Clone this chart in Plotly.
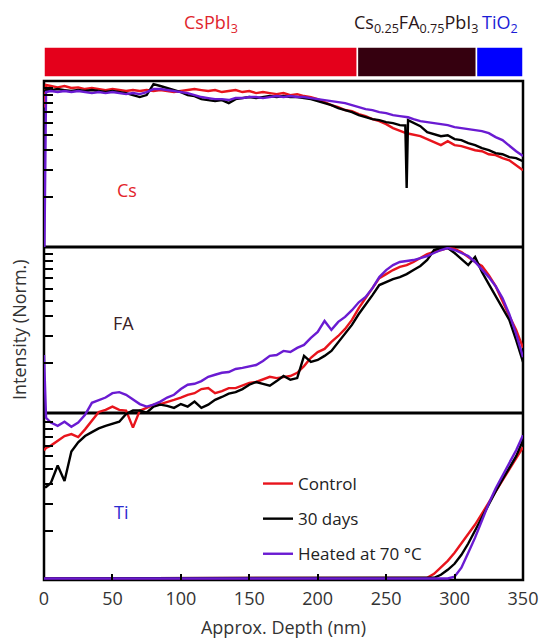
import plotly.graph_objects as go

# ---------------- data ----------------
depth = [0, 1.5, 5, 10, 15, 20, 25, 30, 35, 40,
         45, 50, 55, 60, 65, 70, 75, 80, 85, 90,
         95, 100, 105, 110, 115, 120, 125, 130, 135, 140,
         145, 150, 155, 160, 165, 170, 175, 180, 185, 190,
         195, 200, 205, 210, 215, 220, 225, 230, 235, 240,
         245, 250, 255, 260, 265, 270, 275, 280, 285, 290,
         295, 300, 305, 310, 315, 320, 325, 330, 335, 340,
         345, 350]

depth_cs = [0, 1.5, 5, 10, 15, 20, 25, 30, 35, 40,
            45, 50, 55, 60, 65, 70, 75, 80, 85, 90,
            95, 100, 105, 110, 115, 120, 125, 130, 135, 140,
            145, 150, 155, 160, 165, 170, 175, 180, 185, 190,
            195, 200, 205, 210, 215, 220, 225, 230, 235, 240,
            245, 250, 255, 260, 264, 265, 266, 270, 275, 280,
            285, 290, 295, 300, 305, 310, 315, 320, 325, 330,
            335, 340, 345, 350]

cs_control = [0.75, 1.045, 1.03, 1.01, 1.03, 1.00, 1.01, 0.985, 1.00, 0.985,
              0.97, 0.985, 0.97, 0.956, 0.97, 0.956, 0.97, 0.956, 0.97, 0.956,
              0.942, 0.956, 0.97, 0.985, 0.97, 0.956, 0.97, 0.942, 0.956, 0.97,
              0.942, 0.956, 0.928, 0.942, 0.928, 0.914, 0.928, 0.901, 0.914, 0.888,
              0.875, 0.849, 0.812, 0.777, 0.754, 0.722, 0.711, 0.680, 0.660, 0.632,
              0.613, 0.586, 0.553, 0.529, 0.515, 0.513, 0.511, 0.506, 0.491, 0.470,
              0.449, 0.430, 0.456, 0.430, 0.424, 0.411, 0.399, 0.393, 0.376, 0.371,
              0.355, 0.344, 0.320, 0.297]

cs_30days = [0.95, 0.97, 0.97, 0.985, 0.97, 0.956, 0.97, 0.956, 0.97, 0.956,
             0.942, 0.956, 0.942, 0.928, 0.901, 0.875, 0.901, 1.06, 1.03, 1.00,
             0.97, 0.942, 0.901, 0.888, 0.849, 0.837, 0.824, 0.837, 0.80, 0.849,
             0.862, 0.875, 0.862, 0.875, 0.888, 0.875, 0.888, 0.875, 0.875, 0.862,
             0.849, 0.824, 0.80, 0.777, 0.743, 0.722, 0.70, 0.670, 0.651, 0.632,
             0.622, 0.604, 0.595, 0.578, 0.575, 0.228, 0.622, 0.60, 0.569, 0.521,
             0.506, 0.491, 0.498, 0.470, 0.463, 0.443, 0.430, 0.411, 0.399, 0.382,
             0.376, 0.360, 0.355, 0.339]

cs_heated = [0.05, 0.942, 0.956, 0.942, 0.956, 0.942, 0.956, 0.942, 0.928, 0.942,
             0.928, 0.942, 0.928, 0.914, 0.928, 0.914, 0.942, 0.985, 0.985, 0.97,
             0.956, 0.942, 0.928, 0.901, 0.875, 0.862, 0.849, 0.849, 0.837, 0.862,
             0.862, 0.875, 0.875, 0.862, 0.875, 0.888, 0.875, 0.888, 0.875, 0.875,
             0.862, 0.849, 0.837, 0.824, 0.812, 0.80, 0.777, 0.754, 0.732, 0.722,
             0.70, 0.69, 0.67, 0.66, 0.653, 0.651, 0.649, 0.632, 0.613, 0.604,
             0.595, 0.586, 0.578, 0.561, 0.553, 0.545, 0.537, 0.529, 0.513, 0.484,
             0.463, 0.424, 0.393, 0.366]

fa_control = [0.055, 0.057, 0.059, 0.063, 0.068, 0.070, 0.067, 0.075, 0.086, 0.097,
              0.100, 0.105, 0.100, 0.099, 0.077, 0.099, 0.103, 0.108, 0.109, 0.113,
              0.116, 0.120, 0.125, 0.128, 0.136, 0.138, 0.128, 0.132, 0.138, 0.138,
              0.143, 0.149, 0.151, 0.156, 0.163, 0.160, 0.163, 0.165, 0.173, 0.191,
              0.216, 0.235, 0.246, 0.273, 0.298, 0.331, 0.378, 0.450, 0.521, 0.604,
              0.700, 0.743, 0.789, 0.826, 0.849, 0.889, 0.942, 1.000, 1.030, 1.061,
              1.093, 1.077, 1.030, 0.957, 0.889, 0.838, 0.732, 0.622, 0.492, 0.400,
              0.326, 0.250]

fa_30days = [0.032, 0.032, 0.034, 0.044, 0.035, 0.054, 0.062, 0.068, 0.072, 0.076,
             0.079, 0.081, 0.084, 0.094, 0.099, 0.099, 0.096, 0.105, 0.108, 0.106,
             0.103, 0.109, 0.105, 0.113, 0.103, 0.108, 0.116, 0.121, 0.127, 0.130,
             0.136, 0.145, 0.151, 0.147, 0.143, 0.153, 0.165, 0.156, 0.160, 0.222,
             0.203, 0.209, 0.222, 0.239, 0.273, 0.307, 0.351, 0.412, 0.470, 0.545,
             0.632, 0.661, 0.690, 0.711, 0.743, 0.789, 0.838, 0.915, 1.061, 1.093,
             1.093, 1.015, 0.929, 0.849, 0.957, 0.767, 0.641, 0.537, 0.450, 0.378,
             0.280, 0.203]

fa_heated = [0.225, 0.089, 0.083, 0.079, 0.084, 0.078, 0.083, 0.093, 0.111, 0.116,
             0.120, 0.128, 0.130, 0.125, 0.116, 0.109, 0.105, 0.108, 0.113, 0.120,
             0.125, 0.136, 0.145, 0.147, 0.153, 0.163, 0.168, 0.173, 0.175, 0.183,
             0.186, 0.191, 0.194, 0.206, 0.222, 0.225, 0.239, 0.235, 0.250, 0.261,
             0.290, 0.316, 0.372, 0.326, 0.367, 0.395, 0.436, 0.490, 0.530, 0.604,
             0.711, 0.789, 0.849, 0.889, 0.901, 0.915, 0.942, 0.971, 1.015, 1.061,
             1.093, 1.061, 1.015, 0.971, 0.889, 0.800, 0.711, 0.622, 0.521, 0.411,
             0.307, 0.218]

ti_control = [0.1, 0.1, 0.1, 0.1, 0.1, 0.1, 0.1, 0.1, 0.1, 0.1,
              0.1, 0.1, 0.1, 0.1, 0.1, 0.1, 0.1, 0.1, 0.1, 0.1,
              0.1, 0.1, 0.1, 0.1, 0.1, 0.1, 0.1, 0.1, 0.1, 0.1,
              0.1, 0.1, 0.1, 0.1, 0.1, 0.1, 0.1, 0.1, 0.1, 0.1,
              0.1, 0.1, 0.1, 0.1, 0.1, 0.1, 0.1, 0.1, 0.1, 0.1,
              0.1, 0.1, 0.1, 0.1, 0.1, 0.1, 0.1, 0.101, 0.107, 0.117,
              0.1295, 0.146, 0.167, 0.190, 0.2205, 0.259, 0.305, 0.359, 0.422, 0.497,
              0.584, 0.687]

ti_30days = [0.1, 0.1, 0.1, 0.1, 0.1, 0.1, 0.1, 0.1, 0.1, 0.1,
             0.1, 0.1, 0.1, 0.1, 0.1, 0.1, 0.1, 0.1, 0.1, 0.1,
             0.1, 0.1, 0.1, 0.1, 0.1, 0.1, 0.1, 0.1, 0.1, 0.1,
             0.1, 0.1, 0.1, 0.1, 0.1, 0.1, 0.1, 0.1, 0.1, 0.1,
             0.1, 0.1, 0.1, 0.1, 0.1, 0.1, 0.1, 0.1, 0.1, 0.1,
             0.1, 0.1, 0.1, 0.1, 0.1, 0.1, 0.1, 0.1, 0.101, 0.1055,
             0.1135, 0.124, 0.1415, 0.167, 0.202, 0.248, 0.301, 0.359, 0.428, 0.504,
             0.602, 0.762]

ti_heated = [0.1, 0.1, 0.1, 0.1, 0.1, 0.1, 0.1, 0.1, 0.1, 0.1,
             0.1, 0.1, 0.1, 0.1, 0.1, 0.1, 0.1, 0.1, 0.1, 0.1,
             0.1, 0.1, 0.1, 0.1, 0.1, 0.1, 0.1, 0.1, 0.1, 0.1,
             0.1, 0.1, 0.1, 0.1, 0.1, 0.1, 0.1, 0.1, 0.1, 0.1,
             0.1, 0.1, 0.1, 0.1, 0.1, 0.1, 0.1, 0.1, 0.1, 0.1,
             0.1, 0.1, 0.1, 0.1, 0.1, 0.1, 0.1, 0.1, 0.1, 0.1,
             0.1, 0.1025, 0.117, 0.146, 0.182, 0.234, 0.301, 0.375, 0.455, 0.543,
             0.657, 0.820]

series_names = ["Control", "30 days", "Heated at 70 °C"]
series_colors = ["#e8141c", "#000000", "#6a1bd2"]

panel_names = ["Cs", "FA", "Ti"]
panel_label_colors = ["#e3232b", "#3a2226", "#2a2ad0"]

layer_names = ["CsPbI<sub>3</sub>", "Cs<sub>0.25</sub>FA<sub>0.75</sub>PbI<sub>3</sub>", "TiO<sub>2</sub>"]
layer_start = [0, 229, 316]
layer_end = [229, 316, 350]
layer_colors = ["#e4001b", "#35000f", "#0000ff"]
layer_label_colors = ["#e0252d", "#2b1719", "#1c1cd6"]

x_ticks = [0, 50, 100, 150, 200, 250, 300, 350]
y_minor_ticks = [0.2, 0.3, 0.4, 0.5, 0.6, 0.7, 0.8, 0.9, 1.0]

for arr in (cs_control, cs_30days, cs_heated):
    assert len(arr) == len(depth_cs), len(arr)
for arr in (fa_control, fa_30days, fa_heated, ti_control, ti_30days, ti_heated):
    assert len(arr) == len(depth), len(arr)

# ---------------- layout geometry ----------------
W, H = 541, 640
PL, PR, PT, PB = 44, 523, 47, 580          # plot area in pixels
M_L, M_R, M_T, M_B = PL, W - PR, PT, H - PB
PLOT_H = PB - PT
PLOT_W = PR - PL


def py(px):
    return (PB - px) / PLOT_H


def px_x(px):
    return (px - PL) / PLOT_W


CS_TOP, CS_BOT, FA_BOT, TI_BOT = 81, 247, 413, 580
BAR_TOP, BAR_BOT = 47, 77
DEC = 1.065 / 166.0  # log decades per pixel

fig = go.Figure()

panels = [
    ("y", depth_cs, [cs_control, cs_30days, cs_heated], False),
    ("y2", depth, [fa_control, fa_30days, fa_heated], False),
    ("y3", depth, [ti_control, ti_30days, ti_heated], True),
]
for yax, xs, group, show in panels:
    for name, color, vals in zip(series_names, series_colors, group):
        fig.add_trace(go.Scatter(
            x=xs, y=vals, mode="lines", name=name, xaxis="x", yaxis=yax,
            line=dict(color=color, width=2.4), legendgroup=name,
            showlegend=show, hoverinfo="skip"))

fig.add_trace(go.Bar(
    x=[e - s for s, e in zip(layer_start, layer_end)], base=layer_start,
    y=[0, 0, 0], orientation="h", width=1, xaxis="x", yaxis="y4",
    marker=dict(color=layer_colors, line=dict(color="white", width=1.5)),
    showlegend=False, hoverinfo="skip"))

ytick_common = dict(type="log", tickvals=y_minor_ticks, ticks="inside", ticklen=9,
                    tickwidth=2, tickcolor="black", showticklabels=False,
                    showgrid=False, zeroline=False, showline=False, anchor="x")

fig.update_layout(
    template="none",
    width=W, height=H,
    margin=dict(l=M_L, r=M_R, t=M_T, b=M_B),
    paper_bgcolor="white", plot_bgcolor="rgba(0,0,0,0)",
    font=dict(family="Open Sans", color="#333333"),
    xaxis=dict(domain=[0, 1], range=[0, 350], anchor="y3", tickvals=x_ticks,
               ticks="inside", ticklen=6, tickwidth=2, tickcolor="black",
               showline=False, showgrid=False, zeroline=False,
               ticklabelstandoff=6,
               tickfont=dict(size=18, color="#333333"),
               title=dict(text="Approx. Depth (nm)", font=dict(size=18, color="#333333"),
                          standoff=12)),
    yaxis=dict(domain=[py(CS_BOT), py(CS_TOP)], range=[-1.02, 0.045], **ytick_common),
    yaxis2=dict(domain=[0, py(CS_BOT)],
                range=[0.045 - (TI_BOT - CS_BOT) * DEC, 0.045], **ytick_common),
    yaxis3=dict(domain=[0, py(FA_BOT)], range=[-1.01, 0.055], **ytick_common),
    yaxis4=dict(domain=[py(BAR_BOT), py(BAR_TOP)], range=[-0.5, 0.5], visible=False,
                anchor="x"),
    showlegend=True,
    legend=dict(x=px_x(258), y=py(466), xanchor="left", yanchor="top",
                bgcolor="rgba(0,0,0,0)", font=dict(size=17, color="#222222"),
                traceorder="grouped", tracegroupgap=10),
)

# panel frames
fig.add_shape(type="rect", xref="paper", yref="paper", x0=0, x1=1, y0=0, y1=py(CS_TOP),
              line=dict(color="black", width=2.5), layer="below")
for yb in (CS_BOT, FA_BOT):
    fig.add_shape(type="line", xref="paper", yref="paper", x0=0, x1=1, y0=py(yb), y1=py(yb),
                  line=dict(color="black", width=3), layer="below")

# y title
fig.add_annotation(text="Intensity (Norm.)", xref="paper", yref="paper", x=0, y=py(330),
                   xanchor="center", yanchor="middle", xshift=19 - PL, textangle=-90,
                   showarrow=False, font=dict(size=18, color="#333333"))

# panel labels
panel_label_pos = [(127, 190), (123, 323), (121, 512)]
for name, color, (lx, ly) in zip(panel_names, panel_label_colors, panel_label_pos):
    fig.add_annotation(text=name, xref="paper", yref="paper", x=px_x(lx), y=py(ly),
                       xanchor="center", yanchor="middle",
                       showarrow=False, font=dict(size=18, color=color))

# layer labels
label_shift = [10, 0, 0]
for name, s, e, color, sh in zip(layer_names, layer_start, layer_end, layer_label_colors, label_shift):
    fig.add_annotation(text=name, xref="x", yref="paper", x=(s + e) / 2, y=py(24),
                       xanchor="center", yanchor="middle",
                       xshift=sh, showarrow=False, font=dict(size=18, color=color))

fig.write_html(
    "out.html",
    config={"displayModeBar": False},
    post_script="document.body.style.margin='0';document.body.style.overflow='hidden';",
)
